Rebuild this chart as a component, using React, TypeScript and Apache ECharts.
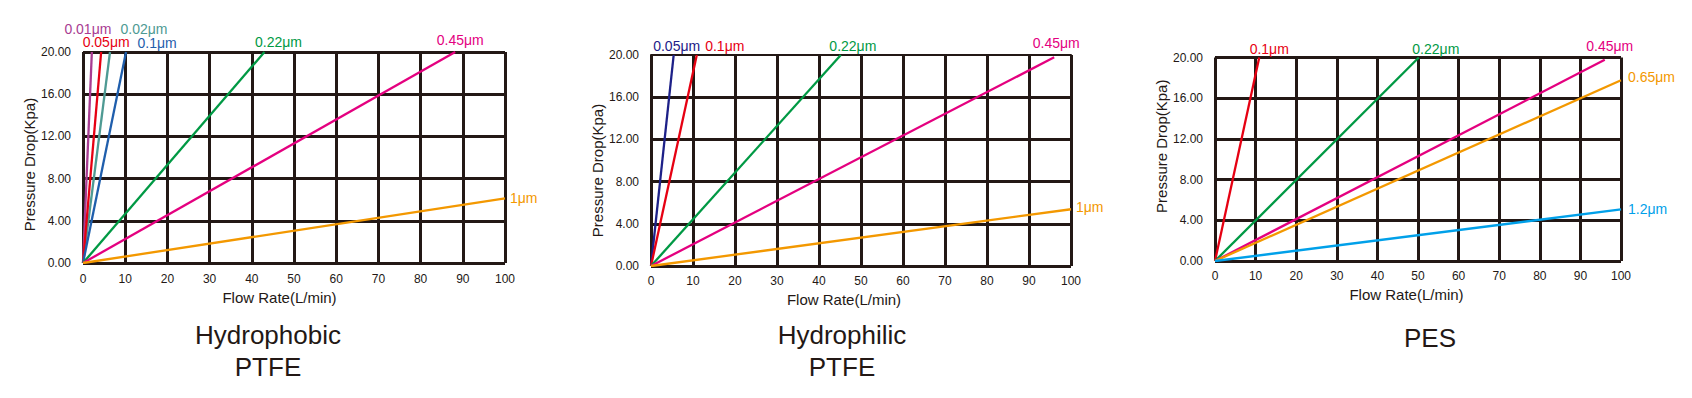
import React, { useEffect, useRef } from "react";
import * as echarts from "echarts";

// ---------- data ----------
const panelTitles = ["Hydrophobic\nPTFE", "Hydrophilic\nPTFE", "PES"];
const xAxisName = "Flow Rate(L/min)";
const yAxisName = "Pressure Drop(Kpa)";

// Panel 1: Hydrophobic PTFE
const phobicSizes = ["0.01μm", "0.02μm", "0.05μm", "0.1μm", "0.22μm", "0.45μm", "1μm"];
const phobicFlow = [[0, 2.1], [0, 6.4], [0, 4.3], [0, 10.2], [0, 43], [0, 88.2], [0, 100]];
const phobicDrop = [[0, 20], [0, 20], [0, 20], [0, 20], [0, 20], [0, 20], [0, 6.13]];

// Panel 2: Hydrophilic PTFE
const philicSizes = ["0.05μm", "0.1μm", "0.22μm", "0.45μm", "1μm"];
const philicFlow = [[0, 5.4], [0, 10.9], [0, 45.2], [0, 96], [0, 100]];
const philicDrop = [[0, 20], [0, 20], [0, 20], [0, 19.78], [0, 5.38]];

// Panel 3: PES
const pesSizes = ["0.1μm", "0.22μm", "0.45μm", "0.65μm", "1.2μm"];
const pesFlow = [[0, 10.9], [0, 50.2], [0, 96], [0, 100], [0, 100]];
const pesDrop = [[0, 20], [0, 20], [0, 19.77], [0, 17.77], [0, 5.07]];

// ---------- styles ----------
const FONT = '"Liberation Sans", Arial, Helvetica, sans-serif';
const INK = "#231815";
const C = {
  purple: "#a83c92",
  teal: "#4e9a93",
  red: "#e60012",
  blue: "#1f5eac",
  navy: "#1d2088",
  green: "#009944",
  pink: "#e4007f",
  orange: "#f39800",
  sky: "#00a0e9",
};
const phobicColors = [C.purple, C.teal, C.red, C.blue, C.green, C.pink, C.orange];
const phobicPos = ["top", "top", "top", "top", "top", "top", "right"];
const phobicOff = [[-4, -12], [34, -12], [5, 1], [31, 2], [14, 1], [5, -1], [0, 0]];

const philicColors = [C.navy, C.red, C.green, C.pink, C.orange];
const philicPos = ["top", "top", "top", "top", "right"];
const philicOff = [[3, 2], [28, 2], [12, 2], [2, -3], [0, -2]];

const pesColors = [C.red, C.green, C.pink, C.orange, C.sky];
const pesPos = ["top", "top", "top", "right", "right"];
const pesOff = [[10, 2.5], [17, 2.5], [5, -3], [2, -3], [2, 0]];

const grids = [
  { left: 83, top: 52, width: 422, height: 211 },
  { left: 651, top: 55, width: 420, height: 211 },
  { left: 1215, top: 57.5, width: 406, height: 203.5 },
];
const yNamePad = [[0, 14, 0, 0], [0, 20, 0, 0], [0, 0, 0, 26]];
const yNameGap = [43, 43, 45.5];
const xNamePad = [[0, 29, 0, 0], [0, 34, 0, 0], [0, 23, 0, 0]];
const xNameGap = [21, 20, 21.5];
const xLabelMargin = [10, 9, 9];

function buildSeries(
  gi: number,
  names: string[],
  flows: number[][],
  drops: number[][],
  colors: string[],
  pos: string[],
  offs: number[][]
) {
  return names.map((n, i) => ({
    type: "line",
    name: n,
    xAxisIndex: gi,
    yAxisIndex: gi,
    silent: true,
    showSymbol: true,
    symbol: "circle",
    symbolSize: 0,
    lineStyle: { color: colors[i], width: 2.3 },
    itemStyle: { color: colors[i] },
    emphasis: { disabled: true },
    data: flows[i].map((x, k) =>
      k === flows[i].length - 1
        ? {
            value: [x, drops[i][k]],
            label: {
              show: true,
              formatter: n,
              position: pos[i],
              offset: offs[i],
              color: colors[i],
              fontSize: 14,
              lineHeight: 12,
              fontFamily: FONT,
            },
          }
        : { value: [x, drops[i][k]], symbol: "none" }
    ),
  }));
}

export default function App() {
  const ref = useRef<HTMLDivElement>(null);

  useEffect(() => {
    if (!ref.current) return;
    const chart = echarts.init(ref.current, undefined, { renderer: "svg" });

    const xAxes: any[] = grids.map((_, gi) => ({
      type: "value",
      gridIndex: gi,
      min: 0,
      max: 100,
      interval: 10,
      name: xAxisName,
      nameLocation: "middle",
      nameGap: xNameGap[gi],
      nameTextStyle: { fontSize: 15, fontFamily: FONT, color: INK, padding: xNamePad[gi] },
      axisLine: { show: false },
      axisTick: { show: false },
      axisLabel: { fontSize: 12, fontFamily: FONT, color: INK, margin: xLabelMargin[gi] },
      splitLine: { show: true, lineStyle: { color: INK, width: 3 } },
    }));
    // thin top border of panel 2
    xAxes.push({
      type: "value",
      gridIndex: 1,
      position: "top",
      min: 0,
      max: 100,
      axisLine: { show: true, lineStyle: { color: INK, width: 2 } },
      axisTick: { show: false },
      axisLabel: { show: false },
      splitLine: { show: false },
    });

    const yAxes = grids.map((_, gi) => ({
      type: "value",
      gridIndex: gi,
      min: 0,
      max: 20,
      interval: 4,
      name: yAxisName,
      nameLocation: "middle",
      nameGap: yNameGap[gi],
      nameRotate: 90,
      nameTextStyle: { fontSize: 15, fontFamily: FONT, color: INK, padding: yNamePad[gi] },
      axisLine: { show: false },
      axisTick: { show: false },
      axisLabel: {
        fontSize: 12,
        fontFamily: FONT,
        color: INK,
        margin: 12,
        formatter: (v: number) => v.toFixed(2),
      },
      splitLine: {
        show: true,
        showMaxLine: gi !== 1,
        lineStyle: { color: INK, width: 3 },
      },
    }));

    const titleTexts = [
      { x: 268, y: 319, text: panelTitles[0] },
      { x: 842, y: 319, text: panelTitles[1] },
      { x: 1430, y: 322, text: panelTitles[2] },
    ];

    chart.setOption({
      animation: false,
      backgroundColor: "#ffffff",
      grid: grids,
      xAxis: xAxes,
      yAxis: yAxes,
      graphic: titleTexts.map((t) => ({
        type: "text",
        x: t.x,
        y: t.y,
        silent: true,
        style: {
          text: t.text,
          fill: INK,
          fontSize: 26,
          fontFamily: FONT,
          lineHeight: 32,
          align: "center",
          verticalAlign: "top",
        },
      })),
      series: [
        ...buildSeries(0, phobicSizes, phobicFlow, phobicDrop, phobicColors, phobicPos, phobicOff),
        ...buildSeries(1, philicSizes, philicFlow, philicDrop, philicColors, philicPos, philicOff),
        ...buildSeries(2, pesSizes, pesFlow, pesDrop, pesColors, pesPos, pesOff),
      ],
    });

    return () => chart.dispose();
  }, []);

  return (
    <div
      ref={ref}
      style={{ position: "fixed", left: 0, top: 0, width: 1692, height: 398, background: "#fff" }}
    />
  );
}
